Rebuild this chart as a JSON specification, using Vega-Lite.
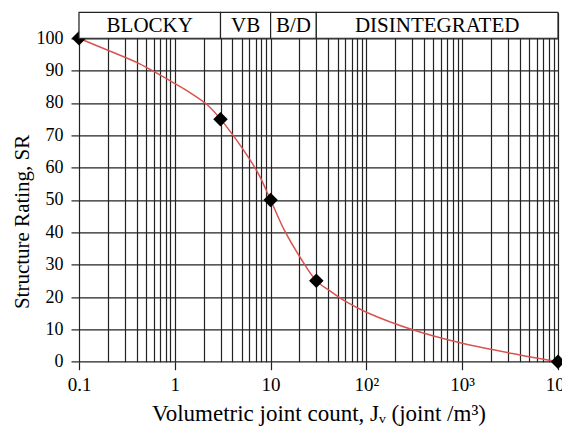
{
  "$schema": "https://vega.github.io/schema/vega-lite/v6.json",
  "width": 479,
  "height": 349.3,
  "autosize": "none",
  "padding": {"left": 79, "top": 12.4, "right": 4, "bottom": 73.3},
  "config": {
    "view": {"stroke": null},
    "font": "Liberation Serif",
    "axis": {"labelFont": "Liberation Serif", "titleFont": "Liberation Serif", "labelColor": "#000", "titleColor": "#000", "titleFontWeight": "normal"}
  },
  "datasets": {
    "curve": [
      {"jv": 0.1, "sr": 100}, {"jv": 0.2, "sr": 96.3}, {"jv": 0.43, "sr": 92.1}, {"jv": 0.65, "sr": 89.2}, {"jv": 0.96, "sr": 86.3},
      {"jv": 1.44, "sr": 83.2}, {"jv": 2.15, "sr": 79.6}, {"jv": 3, "sr": 75}, {"jv": 5.2, "sr": 65.5}, {"jv": 7.4, "sr": 58.3},
      {"jv": 10, "sr": 50}, {"jv": 14, "sr": 40.5}, {"jv": 20.3, "sr": 32.3}, {"jv": 30, "sr": 25}, {"jv": 42, "sr": 21.8},
      {"jv": 60, "sr": 18.7}, {"jv": 100, "sr": 15.3}, {"jv": 310, "sr": 9.8}, {"jv": 1000, "sr": 5.7},
      {"jv": 4000, "sr": 2.1}, {"jv": 10000, "sr": 0}
    ],
    "points": [
      {"jv": 0.1, "sr": 100}, {"jv": 3, "sr": 75}, {"jv": 10, "sr": 50}, {"jv": 30, "sr": 25}, {"jv": 10000, "sr": 0}
    ],
    "header": [
      {"x0": 0.1, "x1": 3, "xm": 0.548, "label": "BLOCKY", "yb": 100, "yt": 108, "ym": 104},
      {"x0": 3, "x1": 10, "xm": 5.48, "label": "VB", "yb": 100, "yt": 108, "ym": 104},
      {"x0": 10, "x1": 30, "xm": 17.3, "label": "B/D", "yb": 100, "yt": 108, "ym": 104},
      {"x0": 30, "x1": 10000, "xm": 547.7, "label": "DISINTEGRATED", "yb": 100, "yt": 108, "ym": 104}
    ]
  },
  "layer": [
    {
      "data": {"name": "curve"},
      "mark": {"type": "line", "interpolate": "catmull-rom", "color": "#d9534f", "strokeWidth": 1.5},
      "encoding": {
        "x": {
          "field": "jv", "type": "quantitative",
          "scale": {"type": "log", "domain": [0.1, 10000], "nice": false},
          "axis": {
            "values": [0.1,0.2,0.3,0.4,0.5,0.6,0.7,0.8,0.9,1,2,3,4,5,6,7,8,9,10,20,30,40,50,60,70,80,90,100,200,300,400,500,600,700,800,900,1000,2000,3000,4000,5000,6000,7000,8000,9000,10000],
            "tickCount": 100,
            "grid": true, "gridColor": "#222", "gridWidth": 1.2, "gridOpacity": 1,
            "domain": false,
            "tickSize": 8, "tickColor": "#222", "tickWidth": 1.2,
            "tickOpacity": {"condition": {"test": "indexof([0.1,1,10,100,1000,10000], datum.value) >= 0", "value": 1}, "value": 0},
            "labelExpr": "datum.value == 0.1 ? '0.1' : datum.value == 1 ? '1' : datum.value == 10 ? '10' : datum.value == 100 ? '10²' : datum.value == 1000 ? '10³' : datum.value == 10000 ? '10⁴' : ''",
            "labelFontSize": 19, "labelPadding": 6, "labelOverlap": false, "labelFlush": false,
            "title": "Volumetric joint count, Jᵥ (joint /m³)", "titleFontSize": 23, "titlePadding": 8
          }
        },
        "y": {
          "field": "sr", "type": "quantitative",
          "scale": {"domain": [0, 108], "nice": false},
          "axis": {
            "values": [0,10,20,30,40,50,60,70,80,90,100],
            "tickCount": 20,
            "grid": true, "gridColor": "#222", "gridWidth": 1.2, "gridOpacity": 1,
            "domain": false, "tickSize": 8, "tickColor": "#222", "tickWidth": 1.2,
            "labelFontSize": 18, "labelPadding": 8, "labelOverlap": false,
            "title": "Structure Rating, SR", "titleFontSize": 21,
            "titleX": -57, "titleY": 209, "titleAlign": "center", "titleBaseline": "middle", "titleAngle": -90
          }
        }
      }
    },
    {
      "data": {"name": "points"},
      "mark": {"type": "point", "shape": "diamond", "filled": true, "color": "#000", "size": 210, "opacity": 1},
      "encoding": {
        "x": {"field": "jv", "type": "quantitative"},
        "y": {"field": "sr", "type": "quantitative"}
      }
    },
    {
      "data": {"name": "header"},
      "mark": {"type": "rect", "fill": "#fff", "stroke": "#222", "strokeWidth": 1.2},
      "encoding": {
        "x": {"field": "x0", "type": "quantitative"},
        "x2": {"field": "x1"},
        "y": {"field": "yb", "type": "quantitative"},
        "y2": {"field": "yt"}
      }
    },
    {
      "data": {"name": "header"},
      "mark": {"type": "text", "font": "Liberation Serif", "fontSize": 21, "color": "#000", "baseline": "middle", "align": "center", "dy": 1},
      "encoding": {
        "x": {"field": "xm", "type": "quantitative"},
        "y": {"field": "ym", "type": "quantitative"},
        "text": {"field": "label"}
      }
    }
  ]
}
